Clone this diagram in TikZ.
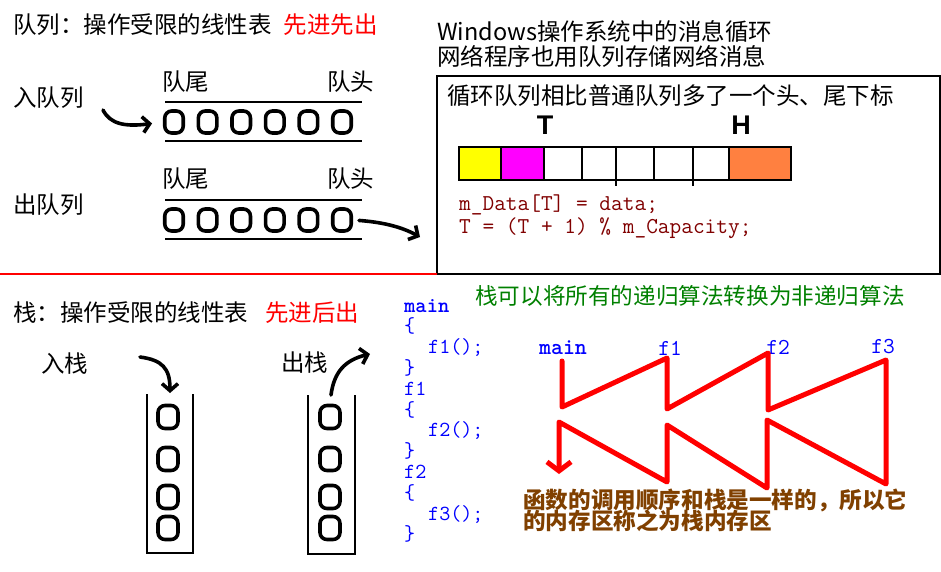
\documentclass[tikz,border=0pt]{standalone}
\usepackage{fontspec}
\usepackage{xcolor}
\setmainfont{Noto Sans CJK SC}
\newfontfamily\markfont{Liberation Sans}
\usetikzlibrary{arrows.meta, positioning, calc}

\definecolor{codered}{RGB}{128,0,0}
\definecolor{notegreen}{RGB}{0,128,0}
\definecolor{notebrown}{RGB}{128,64,0}
\definecolor{cellyellow}{RGB}{255,255,0}
\definecolor{cellmagenta}{RGB}{255,0,255}
\definecolor{cellorange}{RGB}{255,128,64}
\definecolor{linered}{RGB}{255,0,0}

\tikzset{
  txt/.style={inner sep=0pt, anchor=west, font=\fontsize{23.5}{28}\selectfont},
  ball/.style={draw, line width=3.6pt, rounded corners=7pt, minimum width=18.5pt, minimum height=22pt, inner sep=0pt},
  sball/.style={ball, minimum width=20pt, minimum height=23pt},
  hand/.style={line width=3.6pt, line cap=round, line join=round, -{Straight Barb[length=7pt,width=16pt]}},
  rail/.style={line width=1.3pt},
  codeline/.style={inner sep=0pt, anchor=base west, text=blue, font=\ttfamily\fontsize{21.5}{24}\selectfont},
  zlabel/.style={inner sep=0pt, text=blue, font=\ttfamily\fontsize{22.8}{24}\selectfont},
  zig/.style={linered, line width=5pt, line join=round, line cap=round, -{Straight Barb[length=9pt,width=24pt]}}
}

\begin{document}
\begin{tikzpicture}[x=1pt, y=-1pt]
\useasboundingbox (0,0) rectangle (941,571);

% queue
\node[txt] (qtitle) at (13,25) {队列：操作受限的线性表\hspace{12pt}\textcolor{linered}{先进先出}};
\node[txt] (enq) at (13,98) {入队列};
\node[txt] (deq) at (13,205) {出队列};
\node[txt] (tail1) at (162,82) {队尾};
\node[txt] (head1) at (327,82) {队头};
\node[txt] (tail2) at (162,179) {队尾};
\node[txt] (head2) at (327,179) {队头};
\draw[rail] (165,102) -- (362,102) (165,141) -- (362,141);
\draw[rail] (165,200) -- (362,200) (165,239) -- (362,239);
\foreach \i in {1,...,6}{
  \node[ball] (a\i) at ({174+33.6*(\i-1)},122) {};
  \node[ball] (b\i) at ({174+33.6*(\i-1)},220) {};
}
\coordinate (enqfrom) at (103,110);
\coordinate (deqto) at (420,237);
\draw[hand, shorten >=11pt] (enqfrom) .. controls (110,124) and (125,127) .. (a1.west);
\draw[hand, shorten <=6pt] (b6.east) .. controls (380,222) and (400,226) .. (deqto);

% circular queue
\node[txt] (win1) at (437,32) {Windows操作系统中的消息循环};
\node[txt] (win2) at (437,56) {网络程序也用队列存储网络消息};
\draw[line width=1.3pt] (437,76) rectangle (940,274);
\draw[linered, line width=1.3pt] (0,274) -- (437,274);
\node[txt] (circ) at (447,96) {循环队列相比普通队列多了一个头、尾下标};
\node[inner sep=0pt, font=\markfont\bfseries\fontsize{27}{30}\selectfont] (tmark) at (545,125) {T};
\node[inner sep=0pt, font=\markfont\bfseries\fontsize{27}{30}\selectfont] (hmark) at (741,125) {H};
\fill[cellyellow] (459,147) rectangle (501,180);
\fill[cellmagenta] (501,147) rectangle (544,180);
\fill[cellorange] (729,147) rectangle (791,180);
\draw[line width=1.3pt] (459,147) rectangle (791,180);
\foreach \x in {501,544,582,654,729} \draw[line width=1.3pt] (\x,147) -- (\x,180);
\foreach \x in {616,693} \draw[line width=1.3pt] (\x,147) -- (\x,186);
\node[txt, text=codered, font=\ttfamily\fontsize{22.7}{26}\selectfont] (code1) at (459,205) {m\_Data[T] = data;};
\node[txt, text=codered, font=\ttfamily\fontsize{22.7}{26}\selectfont] (code2) at (459,228) {T = (T + 1) \% m\_Capacity;};

% stack
\node[txt] (stitle) at (13,313) {栈：操作受限的线性表\hspace{17pt}\textcolor{linered}{先进后出}};
\node[txt] (push) at (41,364) {入栈};
\node[txt] (pop) at (281,363) {出栈};
\draw[rail] (147,394) -- (147,553) -- (193,553) -- (193,394);
\draw[rail] (308,395) -- (308,554) -- (355,554) -- (355,395);
\foreach \y [count=\i] in {417,459,497,528}{
  \node[sball] (s\i) at (168,\y) {};
  \node[sball] (t\i) at (330,\y) {};
}
\coordinate (pushfrom) at (140,357);
\coordinate (pushto) at (170,393);
\coordinate (popfrom) at (331,395);
\coordinate (popto) at (370,354);
\draw[hand] (pushfrom) .. controls (162,360) and (170,368) .. (pushto);
\draw[hand] (popfrom) .. controls (334,372) and (345,360) .. (popto);

% call order
\node[txt, text=notegreen, font=\fontsize{22.6}{26}\selectfont] (rec) at (475,296) {栈可以将所有的递归算法转换为非递归算法};
\foreach \ln [count=\i] in {{\textbf{main}}, {\{}, {\hspace*{24pt}f1();}, {\}}, {f1}, {\{}, {\hspace*{24pt}f2();}, {\}}, {f2}, {\{}, {\hspace*{24pt}f3();}, {\}}}
  \node[codeline] (c\i) at (404,{312+20.8*(\i-1)}) {\ln};
\node[zlabel] (lmain) at (563,348) {\textbf{main}};
\node[zlabel] (lf1) at (670,348) {f1};
\node[zlabel] (lf2) at (778,347) {f2};
\node[zlabel] (lf3) at (883,347) {f3};
\coordinate (m0) at (562,361);
\coordinate (m1) at (562,407);
\coordinate (p0) at (667,358);
\coordinate (p1) at (667,409);
\coordinate (q0) at (768,353);
\coordinate (q1) at (768,410);
\coordinate (r0) at (886,360);
\coordinate (r1) at (886,484);
\coordinate (q2) at (767,420);
\coordinate (q3) at (767,488);
\coordinate (p2) at (667,425);
\coordinate (p3) at (667,482);
\coordinate (m2) at (559,422);
\coordinate (m3) at (559,474);
\draw[zig] (m0) -- (m1) -- (p0) -- (p1) -- (q0) -- (q1) -- (r0) -- (r1)
  -- (q2) -- (q3) -- (p2) -- (p3) -- (m2) -- (m3);
\node[txt, text=notebrown, font=\bfseries\fontsize{22.6}{24}\selectfont] (note1) at (523,500) {函数的调用顺序和栈是一样的，所以它};
\node[txt, text=notebrown, font=\bfseries\fontsize{22.6}{24}\selectfont] (note2) at (523,521) {的内存区称之为栈内存区};
\end{tikzpicture}
\end{document}
